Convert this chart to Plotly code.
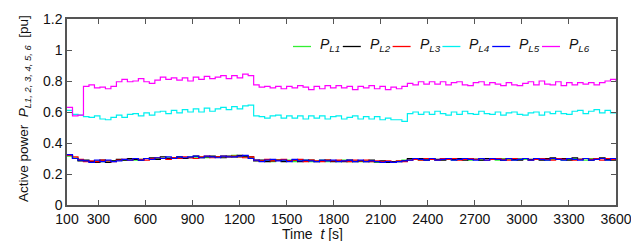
import plotly.graph_objects as go

# time grid (s)
time_s = list(range(100, 3601, 35))

P_L1 = [0.315,0.305,0.29,0.285,0.28,0.285,0.28,0.285,0.285,0.29,
        0.29,0.295,0.29,0.295,0.30,0.295,0.30,0.30,0.305,0.30,
        0.305,0.30,0.31,0.305,0.31,0.305,0.31,0.31,0.315,0.31,
        0.32,0.31,0.31,0.305,0.29,0.285,0.29,0.28,0.29,0.285,
        0.29,0.28,0.285,0.29,0.28,0.285,0.29,0.28,0.285,0.28,
        0.29,0.28,0.285,0.28,0.285,0.28,0.275,0.28,0.275,0.28,
        0.285,0.29,0.295,0.30,0.29,0.295,0.30,0.29,0.295,0.30,
        0.29,0.295,0.30,0.29,0.295,0.29,0.30,0.295,0.29,0.30,
        0.295,0.29,0.30,0.295,0.29,0.295,0.30,0.29,0.295,0.30,
        0.29,0.295,0.30,0.295,0.29,0.30,0.295,0.30,0.29,0.295,
        0.30]

P_L2 = [0.32,0.30,0.285,0.29,0.28,0.275,0.29,0.275,0.285,0.295,
        0.29,0.30,0.295,0.29,0.30,0.305,0.295,0.31,0.30,0.305,
        0.31,0.30,0.305,0.315,0.305,0.31,0.315,0.31,0.305,0.315,
        0.31,0.32,0.315,0.31,0.285,0.29,0.28,0.285,0.29,0.28,
        0.285,0.29,0.28,0.285,0.29,0.28,0.285,0.29,0.28,0.285,
        0.28,0.29,0.28,0.285,0.28,0.29,0.28,0.285,0.275,0.28,
        0.28,0.285,0.30,0.295,0.30,0.29,0.30,0.295,0.29,0.30,
        0.295,0.30,0.29,0.30,0.295,0.29,0.30,0.295,0.30,0.29,
        0.30,0.295,0.29,0.30,0.295,0.30,0.29,0.30,0.305,0.295,
        0.30,0.29,0.305,0.295,0.30,0.29,0.30,0.305,0.295,0.29,
        0.30]

P_L3 = [0.32,0.31,0.295,0.28,0.285,0.28,0.29,0.285,0.28,0.29,
        0.295,0.29,0.30,0.295,0.29,0.30,0.305,0.30,0.295,0.305,
        0.30,0.31,0.305,0.30,0.31,0.315,0.305,0.31,0.315,0.31,
        0.315,0.31,0.305,0.31,0.29,0.285,0.295,0.285,0.29,0.295,
        0.285,0.29,0.295,0.28,0.29,0.285,0.28,0.29,0.285,0.29,
        0.285,0.28,0.29,0.285,0.29,0.28,0.285,0.28,0.285,0.275,
        0.285,0.28,0.29,0.295,0.29,0.30,0.295,0.29,0.30,0.295,
        0.30,0.29,0.295,0.30,0.295,0.30,0.29,0.295,0.30,0.295,
        0.29,0.30,0.295,0.30,0.29,0.295,0.30,0.295,0.29,0.30,
        0.295,0.30,0.29,0.295,0.30,0.295,0.30,0.29,0.30,0.295,
        0.295]

P_L4 = [0.61,0.585,0.58,0.57,0.565,0.575,0.555,0.55,0.565,0.58,
        0.565,0.585,0.59,0.575,0.595,0.58,0.60,0.605,0.59,0.61,
        0.595,0.615,0.60,0.62,0.60,0.625,0.605,0.62,0.63,0.615,
        0.635,0.62,0.64,0.645,0.575,0.57,0.56,0.575,0.58,0.56,
        0.575,0.56,0.575,0.555,0.575,0.56,0.575,0.555,0.57,0.575,
        0.555,0.565,0.575,0.555,0.57,0.555,0.57,0.55,0.56,0.55,
        0.55,0.54,0.59,0.60,0.585,0.60,0.585,0.605,0.59,0.58,
        0.60,0.585,0.605,0.59,0.585,0.605,0.59,0.585,0.60,0.58,
        0.595,0.60,0.585,0.58,0.595,0.60,0.58,0.60,0.59,0.605,
        0.59,0.585,0.605,0.61,0.59,0.605,0.615,0.595,0.61,0.595,
        0.60]

P_L5 = [0.325,0.30,0.29,0.285,0.275,0.29,0.28,0.29,0.28,0.285,
        0.295,0.29,0.30,0.29,0.30,0.295,0.305,0.30,0.31,0.30,
        0.31,0.305,0.31,0.315,0.305,0.315,0.31,0.305,0.315,0.31,
        0.31,0.315,0.32,0.30,0.29,0.28,0.29,0.295,0.285,0.29,
        0.28,0.295,0.285,0.29,0.285,0.28,0.29,0.285,0.29,0.28,
        0.285,0.29,0.28,0.29,0.28,0.285,0.28,0.275,0.28,0.275,
        0.28,0.285,0.29,0.30,0.295,0.29,0.30,0.29,0.295,0.30,
        0.29,0.295,0.30,0.295,0.29,0.30,0.29,0.30,0.295,0.29,
        0.30,0.29,0.295,0.30,0.29,0.30,0.295,0.29,0.30,0.295,
        0.29,0.30,0.295,0.29,0.30,0.29,0.295,0.30,0.29,0.30,
        0.29]

P_L6 = [0.63,0.575,0.58,0.765,0.775,0.755,0.76,0.75,0.765,0.795,
        0.81,0.795,0.80,0.815,0.795,0.785,0.805,0.825,0.81,0.82,
        0.805,0.82,0.80,0.825,0.81,0.83,0.815,0.825,0.835,0.815,
        0.835,0.82,0.845,0.835,0.775,0.76,0.765,0.755,0.765,0.75,
        0.765,0.755,0.77,0.76,0.745,0.765,0.75,0.77,0.755,0.77,
        0.755,0.765,0.745,0.765,0.755,0.77,0.75,0.765,0.745,0.76,
        0.75,0.765,0.785,0.775,0.795,0.78,0.795,0.78,0.795,0.775,
        0.79,0.795,0.775,0.77,0.79,0.795,0.775,0.79,0.78,0.77,
        0.79,0.775,0.77,0.785,0.795,0.775,0.80,0.78,0.775,0.795,
        0.77,0.79,0.775,0.79,0.78,0.79,0.775,0.79,0.80,0.81,
        0.80]

series_names = ["L1", "L2", "L3", "L4", "L5", "L6"]
series_vals = [P_L1, P_L2, P_L3, P_L4, P_L5, P_L6]
colors = ["#33ee33", "#000000", "#ff0000", "#00f0f0", "#0000ff", "#ff00ff"]

x_ticks = [100, 300, 600, 900, 1200, 1500, 1800, 2100, 2400, 2700, 3000, 3300, 3600]
y_ticks = [0, 0.2, 0.4, 0.6, 0.8, 1, 1.2]
y_tick_text = ["0", "0.2", "0.4", "0.6", "0.8", "1", "1.2"]

FONT = "Liberation Sans, Arial, sans-serif"

fig = go.Figure()
for name, vals, col in zip(series_names, series_vals, colors):
    fig.add_trace(go.Scatter(x=time_s, y=vals, mode="lines", line_shape="hv",
                             line=dict(color=col, width=1.2), name=name,
                             showlegend=False))

# page has an 8px body margin; figure sized to fit the 639x241 window
OFF = 8
W, H = 639 - OFF, 241 - OFF
# plot area in page pixels: x 67..616, y 19..205
L = 67 - OFF
T = 19 - OFF
R = W - (616 - OFF)
B = H - (205 - OFF)
pw = W - L - R
ph = H - T - B

def px_x(px):
    return (px - OFF - L) / pw

def px_y(py):
    return (H - B - (py - OFF)) / ph

shapes = []
annotations = []
leg_y = px_y(46.5)
for k, (name, col) in enumerate(zip(series_names, colors)):
    x0 = 293 + 49.8 * k
    shapes.append(dict(type="line", xref="paper", yref="paper",
                       x0=px_x(x0), x1=px_x(x0 + 18), y0=leg_y, y1=leg_y,
                       line=dict(color=col, width=1.3)))
    annotations.append(dict(xref="paper", yref="paper", x=px_x(x0 + 25), y=px_y(45),
                            xanchor="left", yanchor="middle", showarrow=False,
                            text=f"<i>P<sub>{name}</sub></i>",
                            font=dict(family=FONT, size=14, color="#111")))

annotations.append(dict(xref="paper", yref="paper", x=px_x(312), y=px_y(233.5),
                        xanchor="center", yanchor="middle", showarrow=False,
                        text="Time&nbsp;&nbsp;<i>t</i> [s]",
                        font=dict(family=FONT, size=14, color="#111")))
annotations.append(dict(xref="paper", yref="paper", x=px_x(24), y=px_y(109),
                        xanchor="center", yanchor="middle", showarrow=False,
                        textangle=-90,
                        text="Active power&nbsp;&nbsp;<i>P</i><sub><i>L1, 2, 3, 4, 5, 6</i></sub>&nbsp;&nbsp;[pu]",
                        font=dict(family=FONT, size=13.5, color="#111")))

axis_common = dict(showline=True, linecolor="#555", linewidth=1.5, mirror="ticks",
                   ticks="inside", ticklen=5, tickwidth=1.2, tickcolor="#555",
                   showgrid=False, zeroline=False, automargin=False,
                   tickfont=dict(family=FONT, size=14, color="#111"))

fig.update_layout(
    width=W, height=H,
    margin=dict(l=L, r=R, t=T, b=B),
    paper_bgcolor="white", plot_bgcolor="white",
    xaxis=dict(range=[100, 3600], tickvals=x_ticks, ticktext=[str(v) for v in x_ticks], **axis_common),
    yaxis=dict(range=[0, 1.2], tickvals=y_ticks, ticktext=y_tick_text, **axis_common),
    shapes=shapes, annotations=annotations,
    showlegend=False,
)

fig.write_html("out.html")
